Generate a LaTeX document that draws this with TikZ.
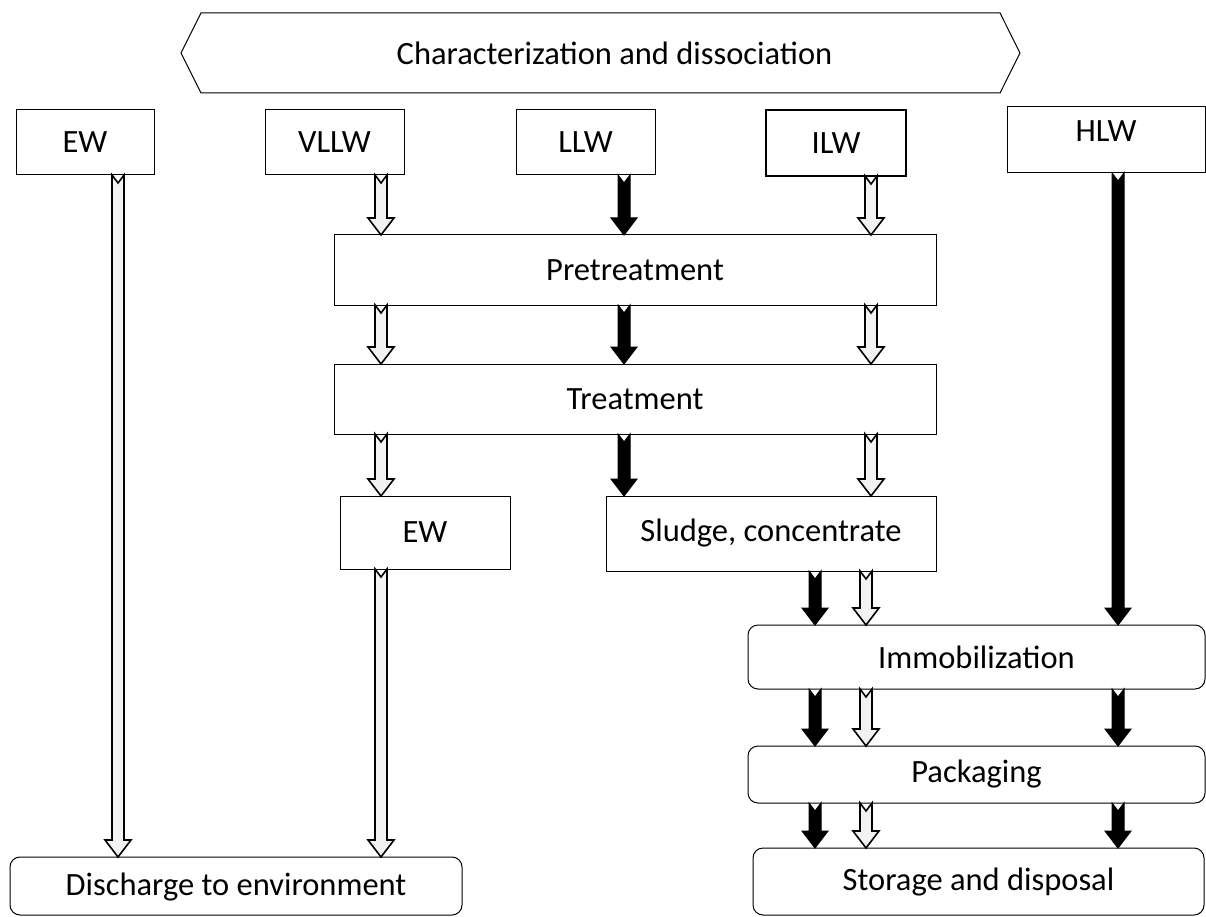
\documentclass[tikz,border=0pt]{standalone}
\usepackage{fontspec}
\setmainfont{Carlito}
\usetikzlibrary{calc,shapes.symbols}
\newcommand\barrow[3]{%
  \path[#1] let \p1=(#2), \p2=(#3) in
    (\x1-6pt,\y1) -- (\x1,\y1-8pt) -- (\x1+6pt,\y1) -- (\x1+6pt,\y2+17pt)
    -- (\x1+13pt,\y2+17pt) -- (\x1,\y2) -- (\x1-13pt,\y2+17pt)
    -- (\x1-6pt,\y2+17pt) -- cycle;}
\begin{document}
\begin{tikzpicture}[x=1pt,y=-1pt,
  every node/.style={font=\fontsize{32.5}{38}\selectfont, inner sep=0pt, outer sep=0pt},
  box/.style={draw=black, line width=1pt, anchor=north west},
  rbox/.style={box, rounded corners=10pt},
  hollowarr/.style={draw=black, fill=black!5, line width=1.6pt, line join=miter},
  solidarr/.style={draw=black, fill=black, line width=1pt, line join=miter}]
\useasboundingbox (0,0) rectangle (1206,917);
% column coordinates
\coordinate (cA) at (118,0);
\coordinate (cB) at (381,0);
\coordinate (cC) at (624,0);
\coordinate (cD) at (871,0);
\coordinate (cE) at (1118,0);
\coordinate (cF) at (815,0);
\coordinate (cG) at (866,0);
% header
\node[draw=black, line width=1pt, shape=signal, signal to=west and east,
  signal pointer angle=127, minimum width=839pt, minimum height=80pt]
  (head) at (600.5,53) {\hspace*{28pt}Characterization and dissociation};
% top row
\node[box, minimum width=138pt, minimum height=65pt] (ew) at (16,110) {EW};
\node[box, minimum width=139pt, minimum height=65pt] (vllw) at (265,110) {VLLW};
\node[box, minimum width=139pt, minimum height=65pt] (llw) at (516,110) {LLW};
\node[box, line width=2pt, minimum width=140pt, minimum height=66pt] (ilw) at (766,110) {ILW};
\node[box, minimum width=198pt, minimum height=66pt, text depth=18pt] (hlw) at (1007,107) {HLW};
% middle
\node[box, minimum width=602pt, minimum height=70pt] (pre) at (334,235) {Pretreatment};
\node[box, minimum width=602pt, minimum height=70pt] (treat) at (334,364) {Treatment};
\node[box, minimum width=170pt, minimum height=73pt] (ew2) at (340,496) {EW};
\node[box, minimum width=330pt, minimum height=75pt] (sludge) at (606,496) {Sludge, concentrate};
% bottom right
\node[rbox, minimum width=457pt, minimum height=64pt] (immo) at (748,625) {Immobilization};
\node[rbox, minimum width=457pt, minimum height=57pt] (pack) at (748,746) {Packaging};
\node[rbox, minimum width=451pt, minimum height=67pt] (store) at (753,848) {Storage and disposal};
\node[rbox, minimum width=452pt, minimum height=58pt, text depth=4pt] (dis) at (10,857) {Discharge to environment};
% arrows
\barrow{hollowarr}{ew.south -| cA}{dis.north -| cA}
\barrow{hollowarr}{vllw.south -| cB}{pre.north -| cB}
\barrow{solidarr}{llw.south -| cC}{pre.north -| cC}
\barrow{hollowarr}{ilw.south -| cD}{pre.north -| cD}
\barrow{solidarr}{hlw.south -| cE}{immo.north -| cE}
\barrow{hollowarr}{pre.south -| cB}{treat.north -| cB}
\barrow{solidarr}{pre.south -| cC}{treat.north -| cC}
\barrow{hollowarr}{pre.south -| cD}{treat.north -| cD}
\barrow{hollowarr}{treat.south -| cB}{ew2.north -| cB}
\barrow{solidarr}{treat.south -| cC}{sludge.north -| cC}
\barrow{hollowarr}{treat.south -| cD}{sludge.north -| cD}
\barrow{hollowarr}{ew2.south -| cB}{dis.north -| cB}
\barrow{solidarr}{sludge.south -| cF}{immo.north -| cF}
\barrow{hollowarr}{sludge.south -| cG}{immo.north -| cG}
\barrow{solidarr}{immo.south -| cF}{pack.north -| cF}
\barrow{hollowarr}{immo.south -| cG}{pack.north -| cG}
\barrow{solidarr}{immo.south -| cE}{pack.north -| cE}
\barrow{solidarr}{pack.south -| cF}{store.north -| cF}
\barrow{hollowarr}{pack.south -| cG}{store.north -| cG}
\barrow{solidarr}{pack.south -| cE}{store.north -| cE}
\end{tikzpicture}
\end{document}
